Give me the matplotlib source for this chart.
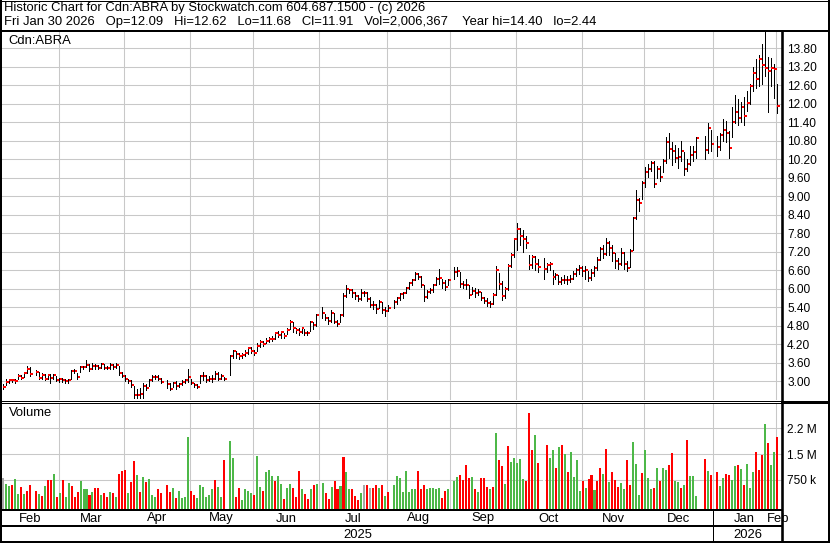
import numpy as np
import pandas as pd
import matplotlib
matplotlib.use("Agg")
import matplotlib.pyplot as plt
from matplotlib.transforms import blended_transform_factory

plt.rcParams['font.family'] = ['Liberation Sans', 'DejaVu Sans']

nan = np.nan

# one slot per weekday, exchange holidays are left empty
days = pd.bdate_range("2025-02-03", "2026-01-30")

close = [
    2.80, 2.98, 3.02, 3.04, 3.00,
    3.17, 3.10, 3.26, 3.40, 3.23,
    nan, 3.28, 3.10, 3.21, 3.08,
    3.20, 3.09, 3.19, 3.03, 3.05,
    3.03, 2.99, 3.02, 3.32, 3.32,
    3.12, 3.44, 3.45, 3.52, 3.38,
    3.50, 3.48, 3.43, 3.55, 3.43,
    3.43, 3.53, 3.45, 3.53, 3.25,
    3.17, 3.05, 3.00, 2.87, 2.56,
    2.56, 2.58, 2.85, 2.77, 3.03,
    3.14, 3.14, 3.07, 2.97, nan,
    2.89, 2.75, 2.92, 2.84, 2.90,
    2.97, 3.03, 3.13, 2.95, 2.88,
    2.81, 3.15, 3.16, 3.03, 3.07,
    3.07, 3.24, 3.08, 3.16, 3.07,
    nan, 3.82, 3.96, 3.87, 3.80,
    3.85, 3.91, 4.06, 3.96, 3.91,
    4.15, 4.27, 4.20, 4.30, 4.35,
    4.37, 4.55, 4.49, 4.58, 4.46,
    4.66, 4.91, 4.71, 4.67, 4.58,
    4.71, 4.55, 4.55, 4.91, 4.81,
    5.13, nan, 5.21, 5.04, 4.94,
    5.21, 4.93, 4.84, 5.14, 5.76,
    5.99, 5.96, 5.85, 5.76, 5.67,
    5.87, 5.87, 5.67, 5.47, 5.47,
    5.35, 5.56, 5.30, 5.27, 5.38,
    nan, 5.56, 5.70, 5.81, 5.85,
    6.01, 6.19, 6.27, 6.47, 6.38,
    6.11, 5.74, 5.88, 5.95, 6.12,
    6.32, 6.35, 6.17, 6.05, 6.27,
    nan, 6.55, 6.58, 6.14, 6.12,
    6.10, 5.79, 5.92, 5.86, 5.89,
    5.68, 5.60, 5.53, 5.51, 5.79,
    6.61, 6.15, 5.76, 6.00, 6.74,
    7.10, 7.59, 7.92, 7.71, 7.62,
    7.49, 6.77, 7.03, 6.81, 6.71,
    nan, 6.64, 6.75, 6.79, 6.38,
    6.45, 6.20, 6.26, 6.29, 6.27,
    6.31, 6.48, 6.60, 6.68, 6.56,
    6.60, 6.34, 6.50, 6.66, 6.93,
    7.28, 7.13, 7.47, 7.32, 7.15,
    6.89, 6.79, 7.15, 6.80, 6.66,
    7.21, 8.29, 8.88, 8.77, 9.43,
    9.78, 9.87, 10.06, 9.39, 9.87,
    9.62, 10.14, 10.76, 10.52, 10.46,
    10.23, 10.27, 10.45, 9.87, 10.03,
    10.32, 10.43, 10.89, nan, nan,
    10.50, 11.20, 10.68, nan, 10.59,
    10.97, 11.15, 11.04, 10.56, 11.40,
    11.73, 11.53, 11.89, 11.59, 12.01,
    12.57, 12.99, 12.79, 13.43, 13.24,
    13.14, 13.04, 13.16, 13.11, 11.91,
]

high = [
    2.90, 3.05, 3.08, 3.08, 3.06,
    3.22, 3.20, 3.30, 3.48, 3.45,
    nan, 3.35, 3.28, 3.26, 3.22,
    3.24, 3.22, 3.22, 3.17, 3.10,
    3.10, 3.06, 3.05, 3.36, 3.38,
    3.25, 3.48, 3.50, 3.68, 3.55,
    3.60, 3.55, 3.52, 3.60, 3.54,
    3.50, 3.58, 3.56, 3.58, 3.50,
    3.28, 3.20, 3.08, 3.02, 2.84,
    2.75, 2.76, 2.95, 2.90, 3.08,
    3.20, 3.20, 3.18, 3.10, nan,
    3.02, 2.95, 2.96, 3.00, 2.95,
    3.02, 3.08, 3.40, 3.06, 2.95,
    2.90, 3.20, 3.30, 3.18, 3.15,
    3.18, 3.32, 3.28, 3.24, 3.14,
    nan, 3.84, 3.99, 3.98, 3.92,
    3.90, 4.00, 4.10, 4.10, 4.00,
    4.22, 4.32, 4.30, 4.40, 4.42,
    4.45, 4.58, 4.62, 4.62, 4.55,
    4.72, 4.97, 4.92, 4.72, 4.72,
    4.76, 4.70, 4.62, 4.96, 4.90,
    5.16, nan, 5.40, 5.16, 5.08,
    5.30, 5.22, 4.98, 5.18, 5.85,
    6.12, 6.00, 5.99, 5.90, 5.78,
    5.98, 5.92, 5.88, 5.72, 5.60,
    5.50, 5.62, 5.56, 5.40, 5.45,
    nan, 5.62, 5.74, 5.84, 5.90,
    6.06, 6.22, 6.32, 6.52, 6.50,
    6.40, 6.11, 5.95, 6.02, 6.16,
    6.38, 6.62, 6.30, 6.28, 6.32,
    nan, 6.70, 6.70, 6.55, 6.25,
    6.32, 6.10, 6.05, 6.02, 6.00,
    5.90, 5.74, 5.68, 5.58, 5.84,
    6.72, 6.50, 6.24, 6.05, 6.80,
    7.15, 7.62, 8.13, 7.95, 7.90,
    7.70, 7.10, 7.08, 7.05, 6.96,
    nan, 6.99, 6.84, 6.85, 6.61,
    6.50, 6.44, 6.38, 6.45, 6.40,
    6.45, 6.56, 6.68, 6.75, 6.74,
    6.72, 6.56, 6.62, 6.74, 7.02,
    7.34, 7.40, 7.65, 7.55, 7.40,
    7.15, 7.00, 7.30, 7.20, 6.90,
    7.28, 8.32, 9.20, 8.95, 9.48,
    9.95, 10.05, 10.12, 10.12, 9.96,
    9.98, 10.20, 10.90, 11.05, 10.75,
    10.66, 10.56, 10.80, 10.42, 10.20,
    10.62, 10.62, 10.90, nan, nan,
    10.94, 11.38, 11.15, nan, 10.96,
    11.05, 11.50, 11.42, 11.10, 11.90,
    12.27, 12.15, 12.05, 12.20, 12.40,
    12.64, 13.20, 13.45, 13.56, 13.92,
    14.40, 13.51, 13.49, 13.27, 12.62,
]

low = [
    2.74, 2.86, 2.94, 2.98, 2.95,
    3.05, 3.06, 3.12, 3.25, 3.16,
    nan, 3.18, 3.06, 3.08, 3.02,
    3.07, 2.92, 3.06, 2.99, 2.96,
    2.96, 2.92, 2.95, 3.05, 3.25,
    3.08, 3.30, 3.38, 3.44, 3.33,
    3.40, 3.40, 3.38, 3.42, 3.38,
    3.38, 3.40, 3.40, 3.43, 3.20,
    3.12, 3.00, 2.92, 2.80, 2.45,
    2.44, 2.46, 2.45, 2.70, 2.85,
    3.00, 3.08, 3.02, 2.94, nan,
    2.78, 2.72, 2.80, 2.74, 2.80,
    2.86, 2.92, 2.98, 2.90, 2.82,
    2.78, 2.92, 3.04, 2.98, 3.00,
    2.98, 3.08, 3.04, 3.06, 3.02,
    nan, 3.20, 3.74, 3.76, 3.72,
    3.76, 3.80, 3.88, 3.90, 3.84,
    3.98, 4.10, 4.14, 4.22, 4.25,
    4.30, 4.36, 4.42, 4.40, 4.40,
    4.52, 4.70, 4.60, 4.55, 4.50,
    4.55, 4.50, 4.50, 4.62, 4.70,
    4.80, nan, 5.05, 4.98, 4.86,
    4.92, 4.88, 4.80, 4.90, 5.10,
    5.72, 5.84, 5.74, 5.66, 5.60,
    5.62, 5.75, 5.60, 5.40, 5.32,
    5.20, 5.36, 5.22, 5.12, 5.26,
    nan, 5.38, 5.50, 5.62, 5.70,
    5.84, 6.00, 6.12, 6.26, 6.30,
    6.04, 5.60, 5.70, 5.84, 5.90,
    6.10, 6.15, 6.02, 5.95, 6.10,
    nan, 6.30, 6.40, 6.06, 6.02,
    6.00, 5.70, 5.82, 5.74, 5.80,
    5.62, 5.54, 5.44, 5.40, 5.50,
    5.80, 6.00, 5.62, 5.70, 5.96,
    6.70, 7.02, 7.25, 7.40, 7.20,
    7.30, 6.62, 6.68, 6.60, 6.52,
    nan, 6.30, 6.55, 6.60, 6.15,
    6.30, 6.15, 6.15, 6.18, 6.14,
    6.20, 6.30, 6.42, 6.48, 6.40,
    6.32, 6.24, 6.26, 6.40, 6.60,
    6.92, 6.98, 7.10, 7.10, 6.88,
    6.66, 6.62, 6.76, 6.62, 6.56,
    6.70, 7.25, 8.25, 8.52, 8.90,
    9.30, 9.62, 9.80, 9.30, 9.60,
    9.48, 9.78, 10.08, 10.24, 10.00,
    10.10, 9.92, 10.14, 9.68, 9.80,
    10.02, 10.12, 10.22, nan, nan,
    10.20, 10.38, 10.45, nan, 10.30,
    10.50, 10.80, 10.74, 10.22, 10.90,
    11.38, 11.30, 11.40, 11.30, 11.75,
    12.00, 12.40, 12.50, 12.57, 12.62,
    12.89, 11.71, 12.57, 12.19, 11.68,
]

# volume in millions of shares
volume = [
    0.80, 0.63, 0.58, 0.60, 0.78,
    0.34, 0.55, 0.33, 0.43, 0.60,
    nan, 0.42, 0.34, 0.29, 0.58,
    0.75, 0.75, 0.93, 0.27, 0.38,
    0.76, 0.27, 0.67, 0.58, 0.27,
    0.41, 0.73, 0.50, 0.50, 0.30,
    0.41, 0.53, 0.53, 0.30, 0.38,
    0.27, 0.39, 0.38, 0.27, 0.93,
    1.00, 1.03, 0.38, 0.69, 1.31,
    0.90, 0.41, 0.84, 0.70, 0.78,
    0.31, 0.27, 0.48, 0.38, nan,
    0.60, 0.41, 0.53, 0.23, 0.42,
    0.23, 0.27, 2.00, 0.42, 0.31,
    0.23, 0.60, 0.56, 0.27, 0.30,
    0.48, 0.75, 0.56, 0.27, 1.34,
    nan, 1.88, 1.40, 0.26, 0.53,
    0.18, 0.49, 0.42, 0.38, 0.32,
    1.44, 0.55, 0.42, 0.99, 1.05,
    0.86, 0.73, 0.86, 0.62, 0.21,
    0.52, 0.63, 0.53, 0.27, 1.00,
    0.48, 0.34, 0.21, 0.49, 0.60,
    0.63, nan, 0.67, 0.38, 0.21,
    0.55, 0.72, 0.50, 0.58, 1.42,
    0.99, 0.48, 0.50, 0.28, 0.18,
    0.38, 0.60, 0.60, 0.52, 0.52,
    0.60, 0.52, 0.60, 0.28, 0.41,
    nan, 0.60, 0.86, 0.81, 0.41,
    1.02, 0.41, 0.49, 0.48, 1.02,
    0.48, 0.60, 0.49, 0.52, 0.52,
    0.48, 0.52, 0.24, 0.42, 0.48,
    nan, 0.72, 0.84, 0.90, 0.75,
    1.19, 0.81, 0.84, 0.49, 0.41,
    0.81, 0.81, 0.55, 0.49, 0.55,
    2.12, 1.33, 1.17, 0.63, 1.74,
    1.27, 1.39, 1.24, 1.36, 0.78,
    0.72, 2.71, 1.63, 2.06, 1.24,
    nan, 1.27, 1.77, 1.39, 1.62,
    1.10, 1.71, 1.77, 1.51, 0.98,
    1.57, 0.84, 1.33, 0.43, 0.72,
    0.52, 0.78, 0.89, 0.46, 0.72,
    1.10, 0.92, 1.65, 0.69, 0.98,
    0.75, 0.55, 0.67, 0.49, 1.33,
    0.61, 1.85, 1.22, 0.31, 0.95,
    1.62, 0.81, 0.49, 0.52, 1.10,
    0.72, 1.10, 1.04, 1.19, 1.54,
    0.72, 0.69, 0.52, 0.61, 1.91,
    0.86, 0.86, 0.29, nan, nan,
    1.36, 1.01, 0.89, nan, 0.98,
    0.58, 0.81, 0.92, 0.89, 0.75,
    1.16, 1.19, 1.08, 0.61, 1.22,
    0.52, 0.98, 1.57, 1.04, 1.48,
    2.37, 1.82, 1.19, 1.57, 2.00,
]

# u = up day, d = down day, n = unchanged, - = no trading
vol_dir = (
    "nuudu" "ududd" "-dudu" "ddudu" "duudd"
    "duuud" "uddud" "dudud" "ddudd" "ududu"
    "uudd-" "ddudu" "uuudd" "uuuuu" "uduud"
    "-uudd" "uuuud" "uuduu" "uduud" "uuddd"
    "uddud" "u-udd" "uddud" "uuddd" "undnd"
    "dudu" "d" "-uuuu" "uuuud" "dduuu"
    "uudd" "u" "-uudd" "ddudu" "dddud"
    "uddud" "uuuuu" "dddud" "d-duu" "dudud"
    "uuuud" "uddud" "dudud" "dduud" "duuud"
    "uuudu" "duudd" "uudud" "uuu--" "dud-d"
    "uuddu" "ududu" "uuddd" "uduud"
)

months = ["Feb", "Mar", "Apr", "May", "Jun", "Jul", "Aug", "Sep",
          "Oct", "Nov", "Dec", "Jan", "Feb"]
years = ["2025", "2026"]
price_ticks = np.arange(3.0, 13.81, 0.6)
vol_ticks = [0.75, 1.5, 2.25]
vol_tick_labels = ["750 k", "1.5 M", "2.2 M"]

header1 = "Historic Chart for Cdn:ABRA by Stockwatch.com 604.687.1500 - (c) 2026"
header2 = ("Fri Jan 30 2026   Op=12.09   Hi=12.62   Lo=11.68   Cl=11.91   "
           "Vol=2,006,367    Year hi=14.40   lo=2.44")

x = np.arange(len(days))
close = np.array(close)
high = np.array(high)
low = np.array(low)
volume = np.array(volume)

W, H = 830, 543
fig = plt.figure(figsize=(W / 100, H / 100), dpi=100)
fig.patch.set_facecolor("white")


def px_axes(x0, y0, x1, y1, **kw):
    return fig.add_axes([x0 / W, 1 - y1 / H, (x1 - x0) / W, (y1 - y0) / H], **kw)


grid_c = "#c8c8c8"
xlim = (-0.23, 260.8)

ax = px_axes(2, 32, 782, 400)
axv = px_axes(2, 403, 782, 509, sharex=ax)
ax.set_xlim(*xlim)
ax.set_ylim(2.384, 14.32)
axv.set_ylim(-0.093, 2.988)

# month boundaries: first weekday slot of each month
month_starts = pd.date_range("2025-03-01", "2026-02-01", freq="MS")
bounds = []
for m in month_starts:
    pos = days.searchsorted(m)
    bounds.append(pos - (1.2 if m.weekday() >= 5 else 0.25))

for a in (ax, axv):
    for b in bounds:
        a.axvline(b, color=grid_c, lw=0.75, zorder=0)
    for s in a.spines.values():
        s.set_visible(False)
    a.tick_params(axis="x", bottom=False, labelbottom=False)
    a.yaxis.tick_right()
    a.tick_params(axis="y", length=0, pad=3.7, labelsize=8.6)

ax.set_yticks(price_ticks)
ax.set_yticklabels([f"{v:.2f}" for v in price_ticks])
ax.grid(axis="y", color=grid_c, lw=0.75, zorder=0)
axv.set_yticks(vol_ticks)
axv.set_yticklabels(vol_tick_labels)
axv.grid(axis="y", color=grid_c, lw=0.75, zorder=0)

# OHLC style bars: high-low line plus close tick
ok = ~np.isnan(close)
ax.vlines(x[ok], low[ok], high[ok], color="black", lw=0.55,
          antialiased=False, zorder=3)
ax.hlines(close[ok], x[ok] + 0.25, x[ok] + 1.0, color="#ff0000", lw=1.44,
          antialiased=False, capstyle="butt", zorder=4)

colors = {"u": "#4db848", "d": "#ff0000", "n": "#a8a8a8", "-": "white"}
vok = ~np.isnan(volume)
floor = -0.093
axv.bar(x[vok] + 0.05, volume[vok] - floor, bottom=floor, width=0.68,
        color=[colors[c] for c in np.array(list(vol_dir))[vok]],
        antialiased=False, zorder=3)

# overlay in pixel coordinates for frame lines and texts
ov = fig.add_axes([0, 0, 1, 1], zorder=10)
ov.set_xlim(0, W)
ov.set_ylim(H, 0)
ov.axis("off")
ov.patch.set_alpha(0)
px = 0.72

ov.plot([1, 1], [0, H], color="black", lw=2 * px)
ov.plot([0, W], [0.5, 0.5], color="black", lw=1 * px)
ov.plot([828.5, 828.5], [0, H], color="black", lw=3 * px)
ov.plot([0, W], [542, 542], color="black", lw=2 * px)
ov.plot([0, W], [31.3, 31.3], color="black", lw=2 * px)
ov.plot([782, 782], [31, H], color="black", lw=2.6 * px)
ov.plot([2, 782], [400.5, 400.5], color="black", lw=1 * px)
ov.plot([2, 782], [402.5, 402.5], color="black", lw=1 * px)
ov.plot([782, 830], [401.5, 401.5], color="black", lw=3 * px)
ov.plot([2, 782], [510, 510], color="black", lw=2 * px)
ov.plot([2, 782], [526.2, 526.2], color="black", lw=2 * px)

fs = 9.4
ov.text(4, 8, header1, fontsize=fs, va="center", ha="left")
ov.text(4, 22.5, header2, fontsize=fs, va="center", ha="left")
ov.text(8, 40.5, "Cdn:ABRA", fontsize=fs, va="center", ha="left")
ov.text(9, 413.5, "Volume", fontsize=fs, va="center", ha="left")

# month and year rows share the chart's x scale
tr = blended_transform_factory(ax.transData, ov.transData)
edges = [xlim[0]] + bounds
for i, name in enumerate(months):
    if i < len(months) - 1:
        cx = (edges[i] + edges[i + 1]) / 2
    else:
        cx = edges[i] + 0.6
    ov.text(cx, 518.5, name, transform=tr, fontsize=fs, ha="center",
            va="center", clip_on=False)

jan = bounds[10]
ov.plot([jan, jan], [510, 541], transform=tr, color="black", lw=1 * px)
ov.text((xlim[0] + jan) / 2, 534.5, years[0], transform=tr, fontsize=fs,
        ha="center", va="center")
ov.text((jan + xlim[1]) / 2, 534.5, years[1], transform=tr, fontsize=fs,
        ha="center", va="center")

fig.savefig("out.png", dpi=100)
